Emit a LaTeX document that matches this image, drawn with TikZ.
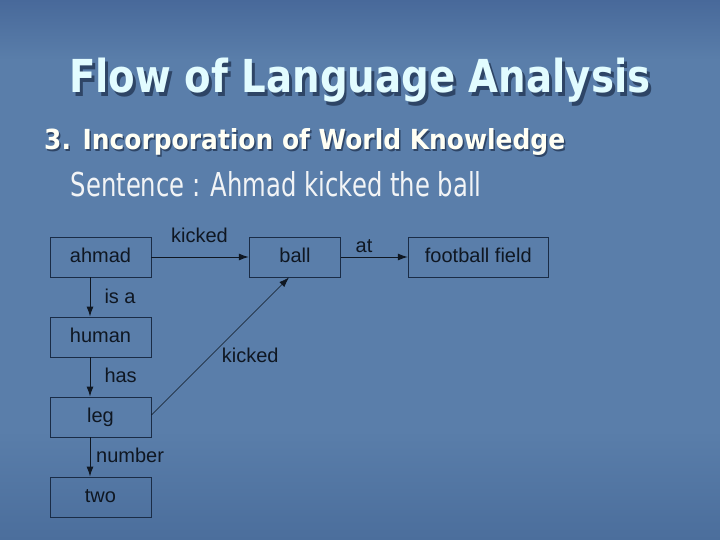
\documentclass[tikz,border=0pt]{standalone}
\usepackage{fontspec}
\setmainfont{Liberation Sans}
\newfontfamily\slidefont{DejaVu Sans}
\usetikzlibrary{arrows.meta}
\definecolor{bgtop}{HTML}{48699A}
\definecolor{bgmid}{HTML}{5A7EAA}
\definecolor{bgbot}{HTML}{4B6E9C}
\definecolor{titlecol}{HTML}{E2FCFF}
\definecolor{subcol}{HTML}{FFFFF4}
\definecolor{sentcol}{HTML}{F2F4F6}
\definecolor{shadowcol}{HTML}{2E4566}
\definecolor{boxcol}{HTML}{1A2C46}
\definecolor{inkcol}{HTML}{0F1722}
\newcommand{\shadowtext}[3]{\makebox[0pt][l]{\hspace{#1}\raisebox{-#1}{\color{shadowcol}#3}}{\color{#2}#3}}
\tikzset{
  boxn/.style={draw=boxcol, line width=0.9pt, minimum height=40pt, inner sep=0pt,
    text=inkcol, font=\fontsize{20}{24}\selectfont, text height=14pt, text depth=4pt},
  lbl/.style={inner sep=0pt, text=inkcol, font=\fontsize{20}{24}\selectfont},
  arr/.style={draw=inkcol, line width=1pt, -{Latex[length=10pt,width=7pt]}},
  thinarr/.style={draw=inkcol, line width=0.6pt, -{Latex[length=10pt,width=7pt]}}
}
\begin{document}
\begin{tikzpicture}[x=1pt,y=-1pt]
\useasboundingbox (0,0) rectangle (720,540);
\fill[bgmid] (0,0) rectangle (720,540);
\shade[top color=bgtop, bottom color=bgmid] (0,0) rectangle (720,60);
\shade[top color=bgmid, bottom color=bgbot] (0,430) rectangle (720,540);

% titles
\node[anchor=base west, inner sep=0pt] (title) at (69,93)
  {\resizebox{581pt}{34.5pt}{\shadowtext{0.75pt}{titlecol}{\slidefont\bfseries Flow of Language Analysis}}};
\node[anchor=base west, inner sep=0pt] (sub) at (44,150)
  {\resizebox{521pt}{21pt}{\shadowtext{0.6pt}{subcol}{\slidefont\bfseries 3. Incorporation of World Knowledge}}};
\node[anchor=base west, inner sep=0pt, text=sentcol] (sent) at (70.5,196.7)
  {\resizebox{411pt}{25pt}{\slidefont Sentence : Ahmad kicked the ball}};

% boxes
\node[boxn, minimum width=101pt] (ahmad) at (100.5,257) {ahmad};
\node[boxn, minimum width=91.5pt] (ball) at (295,257) {ball};
\node[boxn, minimum width=140pt] (ff) at (478.3,257) {football field};
\node[boxn, minimum width=101pt] (human) at (100.5,337) {human};
\node[boxn, minimum width=101pt] (leg) at (100.5,417) {leg};
\node[boxn, minimum width=101pt] (two) at (100.5,497) {two};

% connectors
\draw[arr] (ahmad.east) -- (ball.west);
\draw[arr] (ball.east) -- (ff.west);
\draw[arr] ([xshift=-10.5pt]ahmad.south) -- ([xshift=-10.5pt]human.north);
\draw[arr] ([xshift=-10.5pt]human.south) -- ([xshift=-10.5pt]leg.north);
\draw[arr] ([xshift=-10.5pt]leg.south) -- ([xshift=-10.5pt]two.north);
\draw[thinarr] ([yshift=2pt]leg.east) -- ([xshift=-6pt]ball.south);

% labels
\node[lbl, anchor=base] (l1) at (199.5,242.7) {kicked};
\node[lbl, anchor=base] (l2) at (364,252.3) {at};
\node[lbl, anchor=base west] (l3) at (104.3,303.3) {is a};
\node[lbl, anchor=base west] (l4) at (104.3,382.7) {has};
\node[lbl, anchor=base west] (l5) at (221.7,362.7) {kicked};
\node[lbl, anchor=base west] (l6) at (96,462.7) {number};
\end{tikzpicture}
\end{document}
